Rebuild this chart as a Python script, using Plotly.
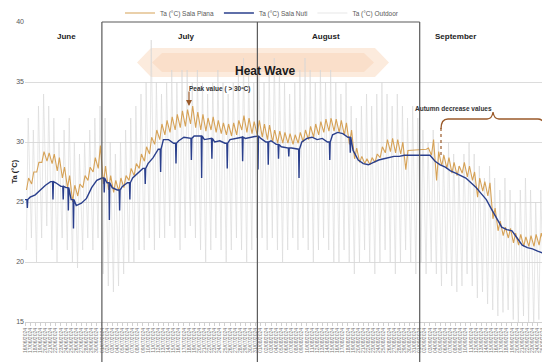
import pandas as pd
import plotly.graph_objects as go

start_date = "2024-06-16"
n_days = 102

# Sala Piana daily max / min (°C); None = missing
piana_max = [27.0, 27.5, 28.3, 29.2, 29.1, 29.0, 28.7, 27.9, 27.2, 26.4,
             26.5, 27.2, 27.9, 28.7, 29.7, 28.0, 27.2, 26.8, 27.0, 27.2,
             27.8, 28.2, 29.0, 29.6, 30.4, 31.0, 31.5, 31.8, 32.1, 32.3,
             32.6, 32.7, 33.0, 32.5, 32.3, 32.0, 32.1, 31.8, 31.6, 31.5,
             31.6, 31.8, 32.2, 32.0, 31.7, 31.8, 31.5, 31.4, 31.0, 30.9,
             30.8, 30.7, 30.6, 30.8, 31.0, 31.3, 31.5, 31.7, 31.9, 32.0,
             31.9, 31.8, 31.6, 31.0, 29.5, 28.8, 28.6, 28.7, 29.0, 29.6,
             30.2, 30.3, 30.2, 30.0, 29.3, None, None, None, 29.5, 30.2,
             29.2, 28.9, 28.7, 28.3, 28.0, 28.3, 28.0, 27.5, 27.0, 26.7,
             26.6, 24.5, 23.4, 22.9, 22.8, 22.4, 22.3, 22.1, 22.2, 22.3,
             22.4, 22.6]
piana_min = [26.0, 26.5, 27.5, 28.3, 28.4, 28.2, 27.6, 27.0, 26.2, 25.0,
             25.5, 26.2, 26.8, 27.5, 27.8, 26.5, 26.0, 25.8, 25.9, 26.2,
             26.8, 27.2, 27.8, 28.4, 29.0, 29.8, 30.2, 30.6, 30.8, 31.0,
             31.2, 31.3, 31.5, 31.2, 31.0, 30.9, 31.0, 30.8, 30.7, 30.6,
             30.5, 30.6, 31.0, 30.8, 30.7, 30.6, 30.4, 30.2, 30.0, 29.9,
             29.9, 29.9, 29.8, 29.9, 30.0, 30.2, 30.4, 30.6, 30.8, 30.9,
             30.9, 30.8, 30.6, 29.8, 28.6, 28.3, 28.2, 28.1, 28.3, 28.7,
             29.1, 29.2, 29.1, 29.0, 27.7, None, None, None, 29.4, 28.9,
             26.8, 28.0, 27.8, 27.4, 27.2, 27.4, 27.1, 26.8, 25.4, 25.9,
             25.5, 23.6, 22.6, 22.2, 22.0, 21.6, 21.4, 21.3, 21.3, 21.3,
             21.4, 21.6]

# Sala Nuti daily level (°C) and short dips on some days
nuti_level = [25.2, 25.4, 25.6, 26.0, 26.4, 26.7, 26.6, 26.3, 26.2, 25.2,
              24.7, 24.9, 25.3, 26.2, 26.8, 27.0, 26.6, 26.2, 26.0, 26.3,
              26.6, 27.0, 27.4, 27.8, 28.2, 28.7, 29.4, 30.2, 30.2, 29.9,
              30.1, 30.4, 30.3, 30.5, 30.5, 30.2, 30.3, 30.0, 30.1, 29.9,
              30.2, 30.3, 30.4, 30.3, 30.4, 30.5, 30.3, 30.0, 30.1, 29.8,
              29.6, 29.5, 29.5, 29.4, 30.0, 30.3, 30.4, 30.2, 30.3, 30.0,
              30.6, 30.8, 30.7, 30.4, 29.3, 28.5, 28.2, 28.1, 28.3, 28.5,
              28.6, 28.7, 28.8, 28.8, 28.9, 28.9, 28.9, 28.9, 28.9, 28.9,
              28.4, 28.1, 27.9, 27.6, 27.4, 27.2, 27.0, 26.6, 26.2, 25.7,
              25.2, 24.4, 23.6, 22.9, 22.7, 22.6, 22.0, 21.4, 21.2, 21.1,
              20.9, 20.75]
nuti_dips = {0: 24.5, 5: 25.2, 7: 25.2, 8: 24.3, 9: 22.8, 15: 25.8, 16: 23.5,
             18: 24.3, 20: 25.2, 23: 26.5, 26: 27.5, 29: 28.2, 32: 28.5,
             34: 27.0, 36: 28.6, 39: 27.8, 42: 28.4, 45: 27.7, 47: 28.1,
             49: 28.6, 51: 28.8, 53: 27.0, 59: 28.5, 63: 29.1}

# Outdoor daily max / min (°C)
out_max = [32, 31, 33, 34, 33, 32, 30, 31, 32, 30,
           29, 30, 31, 32, 33, 32, 30, 29, 30, 31,
           32, 33, 34, 35, 38.5, 35, 34, 35, 36, 35,
           36, 36, 35, 36, 35, 34, 35, 36, 35, 34,
           35, 36, 37, 36, 35, 36, 35, 36, 37, 36,
           35, 34, 35, 36, 37, 36, 35, 36, 35, 36,
           35, 34, 35, 33, 32, 33, 34, 33, 34, 35,
           34, 33, 34, 33, 32, 33, 32, 31, 30, 31,
           30, 29, 30, 29, 28, 29, 30, 29, 28, 27,
           28, 27, 26, 27, 26, 25, 26, 27, 26, 25,
           26, 25]
out_min = [21, 22, 20, 22, 23, 21, 20, 22, 21, 20,
           19.5, 21, 22, 21, 22, 19, 18, 17.5, 18, 19,
           20, 20, 21, 21, 22, 21, 22, 22, 23, 22,
           21, 22, 23, 22, 21, 20, 21, 22, 21, 20,
           21, 22, 21, 20, 21, 22, 22, 21, 22, 21,
           20, 21, 22, 21, 22, 21, 20, 21, 22, 21,
           20, 20, 21, 20, 19, 20, 21, 20, 19, 20,
           21, 20, 19, 20, 21, 20, 19, 20, 19, 20,
           19, 18, 19, 18, 17.5, 18, 19, 18, 17, 17.5,
           16.5, 16, 15.5, 15.8, 16, 15.2, 14.8, 15.5, 15, 14.6,
           15.2, 15.5]

month_labels = ["June", "July", "August", "September"]
y_ticks = [15, 20, 25, 30, 35, 40]

days = pd.date_range(start_date, periods=n_days, freq="D")
H = pd.Timedelta(hours=1)

ox, oy = [], []
for d, lo, hi in zip(days, out_min, out_max):
    ox += [d + 6 * H, d + 15 * H]
    oy += [lo, hi]

px_, py_ = [], []
for d, lo, hi in zip(days, piana_min, piana_max):
    if lo is None:
        continue
    px_ += [d + 7 * H, d + 17 * H]
    py_ += [lo, hi]

nx, ny = [], []
for i, (d, v) in enumerate(zip(days, nuti_level)):
    nx.append(d)
    ny.append(v)
    if i in nuti_dips:
        nx += [d + 9 * H, d + 11 * H, d + 13 * H]
        ny += [v, nuti_dips[i], v]

fig = go.Figure()
fig.add_trace(go.Scatter(x=ox, y=oy, mode="lines", name="Ta (°C) Outdoor",
                         line=dict(color="#D6D6D6", width=0.6), legendrank=3))
fig.add_trace(go.Scatter(x=px_, y=py_, mode="lines", name="Ta (°C) Sala Piana",
                         line=dict(color="#D6A257", width=1.1), legendrank=1))
fig.add_trace(go.Scatter(x=nx, y=ny, mode="lines", name="Ta (°C) Sala Nuti",
                         line=dict(color="#2A3F8C", width=1.4), legendrank=2))

# page body adds an 8 px offset; the figure is sized to compensate
OFF = 8
W, Hh = 550 - OFF, 362 - OFF
L, R, T, B = 25 - OFF, 3, 22 - OFF, 40
pw, ph = W - L - R, Hh - T - B


def fx(p):
    return (p - OFF - L) / pw


def fy(p):
    return (Hh - B - (p - OFF)) / ph


shapes = []
# heat wave block arrow
pts = [(137, 62.5), (151, 48), (375, 48), (389, 62.5), (375, 77), (151, 77)]
path = "M " + " L ".join(f"{fx(a):.4f},{fy(b):.4f}" for a, b in pts) + " Z"
shapes.append(dict(type="path", xref="paper", yref="paper", path=path,
                   fillcolor="#FCEBDD", line=dict(width=0), layer="below"))
pts2 = [(152, 62.5), (162, 53), (364, 53), (374, 62.5), (364, 72), (162, 72)]
path2 = "M " + " L ".join(f"{fx(a):.4f},{fy(b):.4f}" for a, b in pts2) + " Z"
shapes.append(dict(type="path", xref="paper", yref="paper", path=path2,
                   fillcolor="#FADFCA", line=dict(width=0), layer="below"))

# month box
box_col = "#5A5A5A"
for dx in ["2024-07-01", "2024-07-31 08:00", "2024-09-01"]:
    shapes.append(dict(type="line", xref="x", yref="paper", x0=dx, x1=dx,
                       y0=fy(362), y1=1, line=dict(color=box_col, width=1.2)))
shapes.append(dict(type="line", xref="x", yref="paper", x0="2024-07-01",
                   x1="2024-09-01", y0=1, y1=1, line=dict(color=box_col, width=1.2)))

# autumn brace
brown = "#9A5A2A"
bp = (f"M {fx(441):.4f},{fy(129):.4f} Q {fx(441):.4f},{fy(119):.4f} {fx(448):.4f},{fy(119):.4f} "
      f"L {fx(487):.4f},{fy(119):.4f} Q {fx(492):.4f},{fy(119):.4f} {fx(493):.4f},{fy(112):.4f} "
      f"Q {fx(494):.4f},{fy(119):.4f} {fx(499):.4f},{fy(119):.4f} "
      f"L {fx(538):.4f},{fy(119):.4f} Q {fx(545):.4f},{fy(119):.4f} {fx(545):.4f},{fy(130):.4f}")
shapes.append(dict(type="path", xref="paper", yref="paper", path=bp,
                   line=dict(color=brown, width=1.3)))
shapes.append(dict(type="line", xref="paper", yref="paper", x0=fx(441), x1=fx(441),
                   y0=fy(128), y1=fy(156), line=dict(color=brown, width=1.2, dash="dot")))

ann = []
for lab, xp in zip(month_labels, [55, 176, 326, 478]):
    ann.append(dict(text=f"<b>{lab}</b>", x=fx(xp), y=fy(30), xref="paper", yref="paper",
                    showarrow=False, font=dict(size=8, color="#222222")))
ann.append(dict(text="<b>Heat Wave</b>", x=fx(265), y=fy(62), xref="paper", yref="paper",
                showarrow=False, font=dict(size=12, color="#1A1A1A")))
ann.append(dict(text="<b>Peak value ( > 30ºC)</b>", x=fx(187), y=fy(83), xref="paper",
                yref="paper", showarrow=False, font=dict(size=6.5, color="#333333")))
ann.append(dict(text="", x=fx(189), y=fy(106), xref="paper", yref="paper", showarrow=True,
                ax=0, ay=-16, arrowhead=2, arrowsize=1, arrowwidth=1.2, arrowcolor=brown))
ann.append(dict(text="<b>Autumn decrease values</b>", x=fx(494), y=fy(103), xref="paper",
                yref="paper", showarrow=False, font=dict(size=6.5, color="#333333")))
ann.append(dict(text="<b>Ta (°C)</b>", x=fx(7), y=0.5, xref="paper", yref="paper",
                showarrow=False, textangle=-90, font=dict(size=7.5, color="#222222")))

fig.update_layout(
    width=W, height=Hh, margin=dict(l=L, r=R, t=T, b=B, autoexpand=False),
    paper_bgcolor="white", plot_bgcolor="white",
    font=dict(family="Liberation Sans, Arial, sans-serif", color="#595959"),
    showlegend=True,
    legend=dict(orientation="h", x=fx(262), xanchor="center", y=fy(13), yref="paper",
                yanchor="middle", font=dict(size=6.5, color="#595959"),
                itemwidth=30, bgcolor="rgba(0,0,0,0)"),
    shapes=shapes, annotations=ann,
)
fig.update_xaxes(type="date", range=[days[0], days[0] + pd.Timedelta(hours=101 * 24 + 20)],
                 dtick=86400000, tick0=days[0], tickformat="%d/%m/%Y", tickangle=-90,
                 tickfont=dict(size=5, color="#777777"), showgrid=False, automargin=False,
                 showline=True, linecolor="#D0D0D0", linewidth=1,
                 ticks="outside", ticklen=3, tickcolor="#D0D0D0", zeroline=False)
fig.update_yaxes(range=[15, 40], tickvals=y_ticks, showgrid=True, gridcolor="#DCDCDC",
                 gridwidth=0.8, tickfont=dict(size=7, color="#595959"), zeroline=False,
                 showline=False, ticks="", automargin=False)

fig.write_html("out.html")
